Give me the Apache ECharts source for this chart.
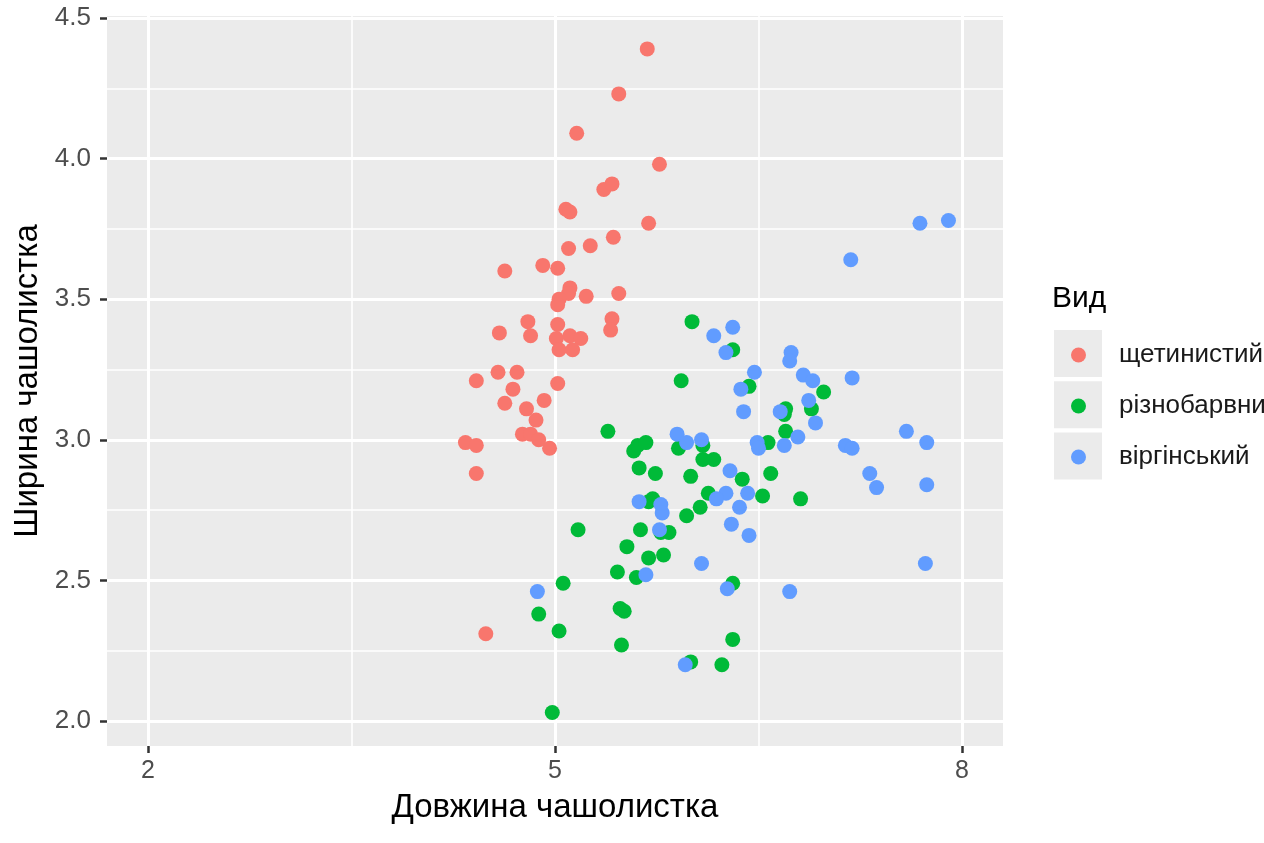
<!DOCTYPE html>
<html>
<head>
<meta charset="utf-8">
<script src="https://cdn.jsdelivr.net/npm/echarts@6/dist/echarts.min.js"></script>
<style>
  html, body { margin: 0; padding: 0; background: #fff; }
  #chart { width: 1264px; height: 843px; }
</style>
</head>
<body>
<div id="chart"></div>
<script>
// sepal length / sepal width (jittered points)
const setosa = [
  [5.68,4.39],[5.47,4.23],[5.16,4.09],[5.77,3.98],[5.36,3.89],[5.42,3.91],[5.08,3.82],[5.11,3.81],
  [5.69,3.77],[5.43,3.72],[5.26,3.69],[5.10,3.68],[4.91,3.62],[5.02,3.61],[4.63,3.60],[5.11,3.54],
  [5.10,3.52],[5.03,3.50],[5.02,3.48],[5.23,3.51],[5.47,3.52],[4.80,3.42],[5.02,3.41],[5.42,3.43],
  [5.41,3.39],[4.59,3.38],[4.82,3.37],[5.01,3.36],[5.11,3.37],[5.19,3.36],[5.03,3.32],[5.13,3.32],
  [4.58,3.24],[4.72,3.24],[4.42,3.21],[4.69,3.18],[5.02,3.20],[4.63,3.13],[4.79,3.11],[4.92,3.14],
  [4.86,3.07],[4.76,3.02],[4.82,3.02],[4.88,3.00],[4.96,2.97],[4.34,2.99],[4.42,2.98],[4.42,2.88],
  [4.49,2.31]
];
const versicolor = [
  [6.01,3.42],[6.31,3.32],[5.93,3.21],[6.43,3.19],[6.98,3.17],[6.70,3.11],[6.69,3.09],[6.89,3.11],
  [5.39,3.03],[6.70,3.03],[6.57,2.99],[5.58,2.96],[5.61,2.98],[5.67,2.99],[5.91,2.97],[6.09,2.98],
  [6.09,2.93],[6.17,2.93],[5.62,2.90],[5.74,2.88],[6.00,2.87],[6.38,2.86],[6.59,2.88],[6.13,2.81],
  [6.53,2.80],[6.81,2.79],[5.69,2.78],[6.07,2.76],[5.97,2.73],[5.17,2.68],[5.63,2.68],[5.78,2.67],
  [5.84,2.67],[5.53,2.62],[5.69,2.58],[5.80,2.59],[5.46,2.53],[5.60,2.51],[5.06,2.49],[6.31,2.49],
  [4.88,2.38],[5.48,2.40],[5.51,2.39],[5.03,2.32],[5.49,2.27],[6.31,2.29],[6.00,2.21],[6.23,2.20],
  [4.98,2.03],[5.72,2.79]
];
const virginica = [
  [6.31,3.40],[6.17,3.37],[6.26,3.31],[6.74,3.31],[6.73,3.28],[6.47,3.24],[6.37,3.18],[6.83,3.23],
  [6.90,3.21],[6.39,3.10],[6.87,3.14],[6.66,3.10],[6.92,3.06],[6.79,3.01],[6.69,2.98],[6.49,2.99],
  [6.50,2.97],[5.90,3.02],[5.97,2.99],[6.08,3.00],[6.29,2.89],[6.26,2.81],[6.19,2.79],[6.42,2.81],
  [6.36,2.76],[5.62,2.78],[5.78,2.77],[5.79,2.74],[5.77,2.68],[6.30,2.70],[6.43,2.66],[6.08,2.56],
  [5.67,2.52],[6.27,2.47],[6.73,2.46],[4.87,2.46],[5.96,2.20],[7.69,3.77],[7.90,3.78],[7.18,3.64],
  [7.19,3.22],[7.59,3.03],[7.74,2.99],[7.14,2.98],[7.19,2.97],[7.32,2.88],[7.37,2.83],[7.74,2.84],
  [7.73,2.56]
];
const speciesNames = ['щетинистий', 'різнобарвний', 'віргінський'];
const speciesColors = ['#F8766D', '#00BA38', '#619CFF'];

const xTicks = [2, 5, 8];
const xMinor = [3.5, 6.5];
const yTicks = [2.0, 2.5, 3.0, 3.5, 4.0, 4.5];
const yMinor = [2.25, 2.75, 3.25, 3.75, 4.25];

const font = 'Liberation Sans';

const gridLines = (vals, key, width) => vals.map(v => ({
  [key]: v,
  lineStyle: { color: '#ffffff', width: width, type: 'solid' }
}));

const chart = echarts.init(document.getElementById('chart'));

const option = {
  backgroundColor: '#ffffff',
  animation: false,
  textStyle: { fontFamily: font },
  title: {
    text: 'Вид',
    left: 1052,
    top: 284,
    padding: 0,
    textStyle: { fontFamily: font, fontSize: 30, fontWeight: 'normal', color: '#000' }
  },
  legend: {
    data: speciesNames,
    orient: 'vertical',
    left: 1071,
    top: 340,
    padding: 0,
    icon: 'circle',
    itemWidth: 15,
    itemHeight: 15,
    itemGap: 21,
    selectedMode: false,
    formatter: name => '{t|' + name + '}',
    textStyle: {
      fontFamily: font,
      fontSize: 26,
      color: '#1a1a1a',
      lineHeight: 30,
      rich: { t: { fontFamily: font, fontSize: 26, color: '#1a1a1a', padding: [0, 0, 0, 28] } }
    }
  },
  graphic: [0, 1, 2].map(i => ({
    type: 'rect',
    left: 1054,
    top: 330 + i * 51.3,
    z: -1,
    shape: { width: 48, height: 47 },
    style: { fill: '#ebebeb' }
  })),
  grid: {
    left: 107,
    top: 16,
    width: 896,
    height: 730,
    show: true,
    backgroundColor: '#ebebeb',
    borderWidth: 0
  },
  xAxis: {
    type: 'value',
    min: 1.698,
    max: 8.302,
    name: 'Довжина чашолистка',
    nameLocation: 'middle',
    nameGap: 45,
    nameTextStyle: { fontFamily: font, fontSize: 33, color: '#000' },
    axisLine: { show: false },
    axisTick: { show: true, length: 7, customValues: xTicks, lineStyle: { color: '#333', width: 2.5 } },
    axisLabel: { customValues: xTicks, margin: 13, fontSize: 25, color: '#4d4d4d', fontFamily: font },
    splitLine: { show: false }
  },
  yAxis: {
    type: 'value',
    min: 1.911,
    max: 4.507,
    name: 'Ширина чашолистка',
    nameLocation: 'middle',
    nameGap: 60,
    nameTextStyle: { fontFamily: font, fontSize: 33, color: '#000' },
    axisLine: { show: false },
    axisTick: { show: true, length: 7, customValues: yTicks, lineStyle: { color: '#333', width: 2.5 } },
    axisLabel: {
      customValues: yTicks,
      margin: 16,
      fontSize: 26,
      color: '#4d4d4d',
      fontFamily: font,
      formatter: v => v.toFixed(1)
    },
    splitLine: { show: false }
  },
  series: [
    {
      // panel grid lines, kept under the points
      type: 'scatter',
      data: [],
      silent: true,
      z: 1,
      markLine: {
        silent: true,
        z: 1,
        symbol: 'none',
        label: { show: false },
        animation: false,
        data: [
          ...gridLines(xMinor, 'xAxis', 1.6),
          ...gridLines(yMinor, 'yAxis', 1.6),
          ...gridLines(xTicks, 'xAxis', 3),
          ...gridLines(yTicks, 'yAxis', 3)
        ]
      }
    },
    ...[setosa, versicolor, virginica].map((d, i) => ({
      name: speciesNames[i],
      type: 'scatter',
      data: d,
      symbolSize: 15,
      z: 3,
      itemStyle: { color: speciesColors[i], opacity: 1 }
    }))
  ]
};

chart.setOption(option);
</script>
</body>
</html>
